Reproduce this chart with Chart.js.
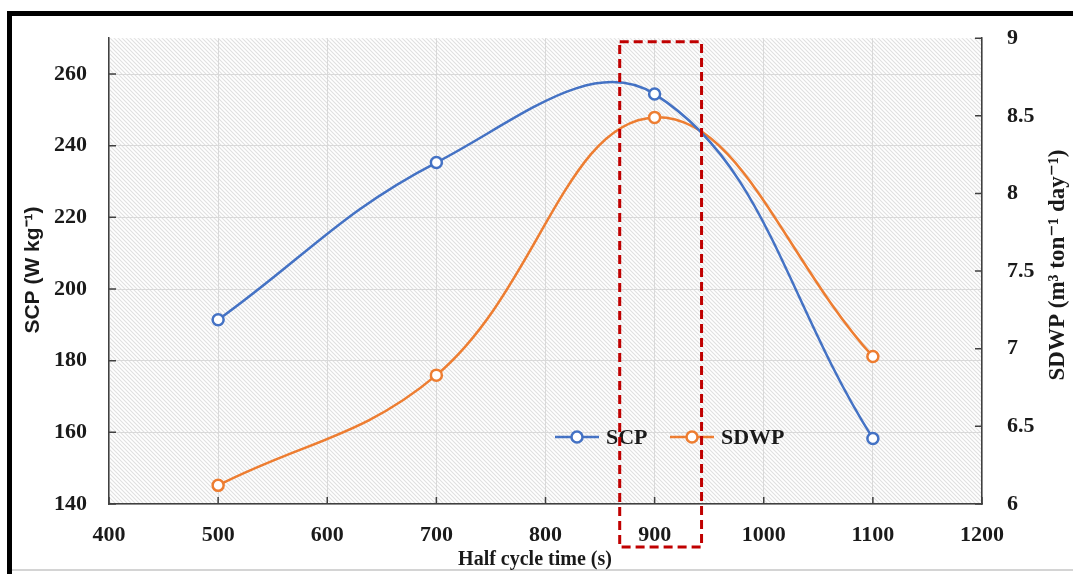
<!DOCTYPE html>
<html>
<head>
<meta charset="utf-8">
<title>SCP and SDWP vs half cycle time</title>
<script src="https://cdn.jsdelivr.net/npm/chart.js@4/dist/chart.umd.min.js"></script>
<style>
  html, body { margin: 0; padding: 0; background: #fff; }
  canvas { display: block; }
</style>
</head>
<body>
<canvas id="chart" width="1073" height="574"></canvas>
<script>
// values
const halfCycleTime = [500, 700, 900, 1100];
const scpValues = [191.4, 235.3, 254.4, 158.3];
const sdwpValues = [6.12, 6.83, 8.49, 6.95];

const seriesNames = ["SCP", "SDWP"];
const xTitle = "Half cycle time (s)";
const yTitle = "SCP (W kg\u207B\u00B9)";
const y2Title = "SDWP (m\u00B3 ton\u207B\u00B9 day\u207B\u00B9)";

// dashed box around the optimum (x range in s, y range in SCP units)
const highlightX = [868, 943];
const highlightY = [128, 269];

const BLUE = "#4472C4";
const ORANGE = "#ED7D31";
const SERIF = "'Liberation Serif', 'DejaVu Serif', serif";
const SANS = "'Liberation Sans', Arial, sans-serif";
const tickFont = { family: SERIF, size: 22, weight: "bold" };
const plainLabel = value => String(value);

function makeHatch() {
  const c = document.createElement("canvas");
  c.width = 4;
  c.height = 4;
  const g = c.getContext("2d");
  g.fillStyle = "#ffffff";
  g.fillRect(0, 0, 4, 4);
  g.strokeStyle = "#e0e0e0";
  g.lineWidth = 1.1;
  g.beginPath();
  g.moveTo(-1, -1); g.lineTo(5, 5);
  g.moveTo(-1, 3); g.lineTo(1, 5);
  g.moveTo(3, -1); g.lineTo(5, 1);
  g.stroke();
  return c;
}

const backgroundPlugin = {
  id: "background",
  beforeDraw(chart) {
    const { ctx, chartArea: a } = chart;
    ctx.save();
    ctx.fillStyle = "#ffffff";
    ctx.fillRect(0, 0, chart.width, chart.height);
    ctx.fillStyle = ctx.createPattern(makeHatch(), "repeat");
    ctx.fillRect(a.left, a.top, a.right - a.left, a.bottom - a.top);
    // frame of the cropped figure
    ctx.fillStyle = "#000000";
    ctx.fillRect(7, 11, chart.width - 7, 5);
    ctx.fillRect(7, 11, 5, chart.height - 11);
    ctx.fillStyle = "#d4d4d4";
    ctx.fillRect(12, 569, chart.width - 12, 2);
    ctx.restore();
  }
};

const decorPlugin = {
  id: "decor",
  afterDraw(chart) {
    const { ctx, chartArea: a, scales } = chart;
    ctx.save();

    // inward tick marks
    ctx.strokeStyle = "#404040";
    ctx.lineWidth = 1.5;
    ctx.beginPath();
    scales.x.ticks.forEach(t => {
      const px = scales.x.getPixelForValue(t.value);
      ctx.moveTo(px, a.bottom);
      ctx.lineTo(px, a.bottom - 7);
    });
    scales.y.ticks.forEach(t => {
      const py = scales.y.getPixelForValue(t.value);
      ctx.moveTo(a.left, py);
      ctx.lineTo(a.left + 7, py);
    });
    scales.y2.ticks.forEach(t => {
      const py = scales.y2.getPixelForValue(t.value);
      ctx.moveTo(a.right, py);
      ctx.lineTo(a.right - 7, py);
    });
    ctx.stroke();

    // axis titles
    ctx.fillStyle = "#1a1a1a";
    ctx.textAlign = "center";
    ctx.textBaseline = "middle";
    ctx.font = "bold 20px " + SERIF;
    ctx.fillText(xTitle, 535, 560);

    ctx.save();
    ctx.translate(33, 270);
    ctx.rotate(-Math.PI / 2);
    ctx.font = "bold 21px " + SANS;
    ctx.fillText(yTitle, 0, 0);
    ctx.restore();

    ctx.save();
    ctx.translate(1058, 265);
    ctx.rotate(-Math.PI / 2);
    ctx.font = "bold 23px " + SERIF;
    ctx.fillText(y2Title, 0, 0);
    ctx.restore();

    // legend inside the plot
    const legendY = 437;
    const legendX = [555, 670];
    chart.data.datasets.forEach((ds, i) => {
      const x0 = legendX[i];
      ctx.strokeStyle = ds.borderColor;
      ctx.lineWidth = 2.5;
      ctx.beginPath();
      ctx.moveTo(x0, legendY);
      ctx.lineTo(x0 + 44, legendY);
      ctx.stroke();
      ctx.beginPath();
      ctx.arc(x0 + 22, legendY, 5.5, 0, Math.PI * 2);
      ctx.fillStyle = "#ffffff";
      ctx.fill();
      ctx.stroke();
      ctx.fillStyle = "#1a1a1a";
      ctx.textAlign = "left";
      ctx.font = "bold 22px " + SERIF;
      ctx.fillText(ds.label, x0 + 51, legendY + 1);
    });

    // red dashed highlight box
    const bx1 = scales.x.getPixelForValue(highlightX[0]);
    const bx2 = scales.x.getPixelForValue(highlightX[1]);
    const by1 = scales.y.getPixelForValue(highlightY[1]);
    const by2 = scales.y.getPixelForValue(highlightY[0]);
    ctx.strokeStyle = "#C00000";
    ctx.lineWidth = 3;
    ctx.setLineDash([9, 5]);
    ctx.strokeRect(bx1, by1, bx2 - bx1, by2 - by1);

    ctx.restore();
  }
};

new Chart(document.getElementById("chart"), {
  type: "line",
  data: {
    datasets: [
      {
        label: seriesNames[0],
        data: halfCycleTime.map((x, i) => ({ x: x, y: scpValues[i] })),
        yAxisID: "y",
        borderColor: BLUE,
        borderWidth: 2.5,
        pointRadius: 5.5,
        pointBorderWidth: 2.5,
        pointBackgroundColor: "#ffffff",
        pointBorderColor: BLUE,
        tension: 0.4
      },
      {
        label: seriesNames[1],
        data: halfCycleTime.map((x, i) => ({ x: x, y: sdwpValues[i] })),
        yAxisID: "y2",
        borderColor: ORANGE,
        borderWidth: 2.5,
        pointRadius: 5.5,
        pointBorderWidth: 2.5,
        pointBackgroundColor: "#ffffff",
        pointBorderColor: ORANGE,
        tension: 0.4
      }
    ]
  },
  options: {
    responsive: false,
    animation: false,
    devicePixelRatio: 1,
    layout: { padding: { top: 35, left: 0, right: 0, bottom: 0 } },
    plugins: {
      legend: { display: false },
      tooltip: { enabled: false }
    },
    scales: {
      x: {
        type: "linear",
        min: 400,
        max: 1200,
        ticks: { stepSize: 100, font: tickFont, color: "#1a1a1a", padding: 18, callback: plainLabel },
        grid: { color: "#d9d9d9", lineWidth: 1, drawTicks: false },
        border: { color: "#404040", width: 1.5 },
        afterFit(scale) { scale.height = 70; }
      },
      y: {
        position: "left",
        min: 140,
        max: 270,
        ticks: { stepSize: 20, includeBounds: false, font: tickFont, color: "#1a1a1a", padding: 22, callback: plainLabel },
        grid: { color: "#d9d9d9", lineWidth: 1, drawTicks: false },
        border: { color: "#404040", width: 1.5 },
        afterFit(scale) { scale.width = 109; }
      },
      y2: {
        position: "right",
        min: 6,
        max: 9,
        ticks: { stepSize: 0.5, font: tickFont, color: "#1a1a1a", padding: 25, callback: plainLabel },
        grid: { drawOnChartArea: false, drawTicks: false },
        border: { color: "#404040", width: 1.5 },
        afterFit(scale) { scale.width = 91; }
      }
    }
  },
  plugins: [backgroundPlugin, decorPlugin]
});
</script>
</body>
</html>
